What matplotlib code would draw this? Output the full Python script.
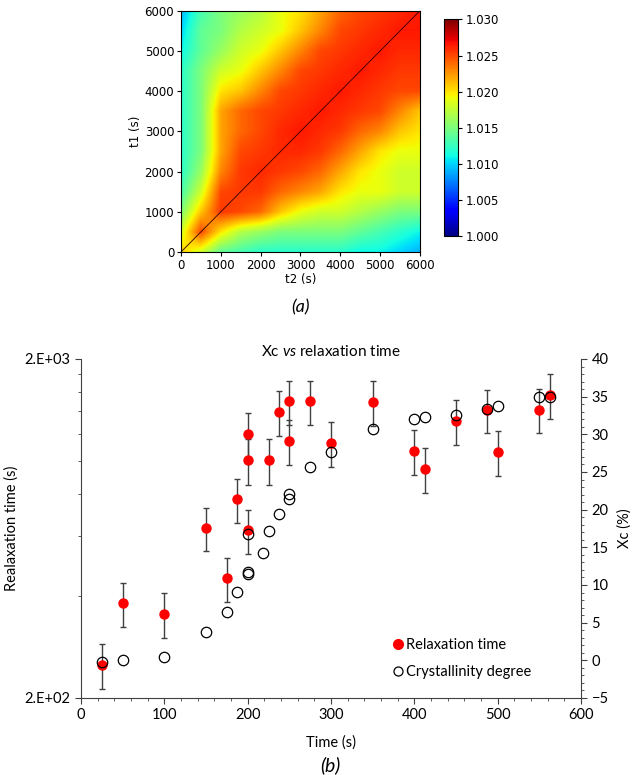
import numpy as np
import matplotlib
matplotlib.use('Agg')
from matplotlib import pyplot as plt
from matplotlib.ticker import FixedLocator, FixedFormatter, NullFormatter, MultipleLocator
from matplotlib.lines import Line2D

# two-time correlation map, read on a 500 s grid (rows: t1, cols: t2)
grid_t = [0, 500, 1000, 1500, 2000, 2500, 3000, 3500, 4000, 4500, 5000, 5500, 6000]
corr = [
    [1.021, 1.018, 1.014, 1.013, 1.012, 1.012, 1.012, 1.012, 1.012, 1.011, 1.011, 1.010, 1.009],
    [1.018, 1.025, 1.020, 1.017, 1.016, 1.015, 1.015, 1.015, 1.015, 1.014, 1.013, 1.012, 1.011],
    [1.015, 1.021, 1.0255, 1.025, 1.024, 1.021, 1.019, 1.018, 1.018, 1.017, 1.016, 1.015, 1.015],
    [1.013, 1.018, 1.025, 1.0255, 1.0255, 1.024, 1.023, 1.022, 1.020, 1.019, 1.019, 1.018, 1.018],
    [1.012, 1.016, 1.023, 1.0255, 1.026, 1.0255, 1.025, 1.024, 1.022, 1.020, 1.019, 1.018, 1.018],
    [1.012, 1.015, 1.022, 1.025, 1.0255, 1.026, 1.026, 1.0255, 1.024, 1.022, 1.020, 1.019, 1.019],
    [1.012, 1.015, 1.022, 1.024, 1.025, 1.026, 1.0265, 1.026, 1.0255, 1.024, 1.023, 1.021, 1.020],
    [1.012, 1.015, 1.022, 1.024, 1.025, 1.0255, 1.026, 1.0265, 1.026, 1.0255, 1.025, 1.023, 1.021],
    [1.012, 1.015, 1.020, 1.021, 1.023, 1.025, 1.0255, 1.026, 1.0265, 1.026, 1.0255, 1.025, 1.025],
    [1.012, 1.015, 1.018, 1.019, 1.021, 1.023, 1.025, 1.0255, 1.026, 1.0265, 1.026, 1.0255, 1.0255],
    [1.011, 1.014, 1.016, 1.018, 1.019, 1.021, 1.023, 1.025, 1.0255, 1.026, 1.0265, 1.026, 1.026],
    [1.010, 1.014, 1.015, 1.017, 1.018, 1.019, 1.021, 1.023, 1.025, 1.0255, 1.026, 1.0265, 1.0265],
    [1.009, 1.013, 1.015, 1.016, 1.017, 1.019, 1.020, 1.022, 1.024, 1.025, 1.0255, 1.026, 1.0265],
]

# relaxation time vs annealing time
relax_t = [25, 50, 100, 150, 175, 187, 200, 200, 200, 225, 238, 250, 250, 275, 300, 350,
           400, 413, 450, 487, 500, 550, 563]
relax_tau = [250, 380, 354, 635, 451, 771, 1202, 1005, 625, 1005, 1399, 1503, 1148, 1503, 1133, 1496,
             1071, 948, 1316, 1413, 1066, 1417, 1570]
relax_err = [38, 57, 53, 93, 67, 115, 184, 155, 92, 155, 210, 225, 175, 225, 170, 225,
             160, 143, 198, 205, 160, 210, 240]

# crystallinity degree
xc_t = [25, 50, 100, 150, 175, 187, 200, 200, 200, 218, 225, 237, 250, 250, 275, 300, 350,
        400, 413, 450, 487, 500, 550, 563]
xc_val = [-0.2, 0.1, 0.5, 3.8, 6.4, 9.1, 11.7, 11.4, 16.8, 14.3, 17.1, 19.4, 22.1, 21.4, 25.7, 27.7, 30.7,
          32.0, 32.3, 32.5, 33.3, 33.7, 35.0, 35.0]

plt.rcParams['mathtext.fontset'] = 'custom'
plt.rcParams['mathtext.rm'] = 'Lato'
plt.rcParams['mathtext.it'] = 'Lato:italic'

fig = plt.figure(figsize=(6.4, 7.75), dpi=100)

# (a) heatmap
ax1 = fig.add_axes([0.283, 0.675, 0.373, 0.311])
step = grid_t[1] - grid_t[0]
im = ax1.imshow(corr, cmap='jet', vmin=1.0, vmax=1.03, origin='lower', interpolation='bilinear',
                extent=[grid_t[0] - step / 2, grid_t[-1] + step / 2, grid_t[0] - step / 2, grid_t[-1] + step / 2],
                aspect='auto')
ax1.plot([0, 6000], [0, 6000], color='#300000', lw=0.6)
ax1.set_xlim(0, 6000)
ax1.set_ylim(0, 6000)
ax1.set_xticks(range(0, 6001, 1000))
ax1.set_yticks(range(0, 6001, 1000))
ax1.tick_params(labelsize=8.5, length=3, pad=2)
ax1.set_xlabel('t2 (s)', fontsize=8.5, labelpad=1)
ax1.set_ylabel('t1 (s)', fontsize=8.5, labelpad=2)

cax = fig.add_axes([0.694, 0.695, 0.022, 0.280])
cb = fig.colorbar(im, cax=cax, ticks=[1.000, 1.005, 1.010, 1.015, 1.020, 1.025, 1.030])
cb.ax.set_yticklabels(['%.3f' % v for v in [1.000, 1.005, 1.010, 1.015, 1.020, 1.025, 1.030]])
cb.ax.tick_params(labelsize=8.5, length=3, pad=2)

fig.text(0.469, 0.603, '(a)', fontsize=13, family='Lato', style='italic', ha='center', va='center')

# (b) relaxation time and crystallinity
ax = fig.add_axes([0.1266, 0.0994, 0.7814, 0.4374])
ax.errorbar(relax_t, relax_tau, yerr=relax_err, fmt='o', color='#ff0000', ms=6.5, mec='#ff0000',
            ecolor='#404040', elinewidth=1, capsize=2, capthick=1, zorder=3)
ax.set_yscale('log')
ax.set_ylim(200, 2000)
ax.set_xlim(0, 600)
ax.yaxis.set_major_locator(FixedLocator([200, 2000]))
ax.yaxis.set_major_formatter(FixedFormatter(['2.E+02', '2.E+03']))
ax.yaxis.set_minor_locator(FixedLocator(list(range(400, 2000, 200))))
ax.yaxis.set_minor_formatter(NullFormatter())
ax.xaxis.set_major_locator(MultipleLocator(100))
ax.xaxis.set_minor_locator(MultipleLocator(20))
ax.spines['top'].set_visible(False)
ax.spines['right'].set_visible(False)
for s in ['left', 'bottom']:
    ax.spines[s].set_color('#404040')
ax.tick_params(which='major', length=4, color='#404040', labelsize=10.5)
ax.tick_params(which='minor', length=2.5, color='#404040')
for lbl in ax.get_xticklabels() + ax.get_yticklabels():
    lbl.set_family('Lato')
ax.set_ylabel('Realaxation time (s)', fontsize=10.5, family='Lato', labelpad=4)
ax.set_xlabel('Time (s)', fontsize=10.5, family='Lato', labelpad=9)
ax.set_title(r'Xc $\mathit{vs}$ relaxation time', fontsize=11, family='Lato', pad=2)

ax2 = ax.twinx()
ax2.plot(xc_t, xc_val, 'o', mfc='none', mec='black', ms=7.5, mew=0.9)
ax2.set_ylim(-5, 40)
ax2.yaxis.set_major_locator(MultipleLocator(5))
ax2.yaxis.set_minor_locator(MultipleLocator(1))
for s in ['top', 'left', 'bottom']:
    ax2.spines[s].set_visible(False)
ax2.spines['right'].set_color('#404040')
ax2.tick_params(which='major', length=4, color='#404040', labelsize=10.5)
ax2.tick_params(which='minor', length=2.5, color='#404040')
for lbl in ax2.get_yticklabels():
    lbl.set_family('Lato')
ax2.set_ylabel('Xc (%)', fontsize=10.5, family='Lato', labelpad=6)

handles = [Line2D([], [], marker='o', ls='none', color='#ff0000', ms=7),
           Line2D([], [], marker='o', ls='none', mfc='none', mec='black', ms=6.5, mew=0.9)]
ax2.legend(handles, ['Relaxation time', 'Crystallinity degree'], loc='upper left',
           bbox_to_anchor=(0.62, 0.178), frameon=False, handletextpad=0.05, handlelength=1.0,
           borderpad=0, borderaxespad=0,
           prop={'family': 'Lato', 'size': 10.5}, labelspacing=0.9)

fig.text(0.516, 0.013, '(b)', fontsize=14, family='Lato', style='italic', ha='center', va='center')

fig.savefig('out.png', dpi=100)
